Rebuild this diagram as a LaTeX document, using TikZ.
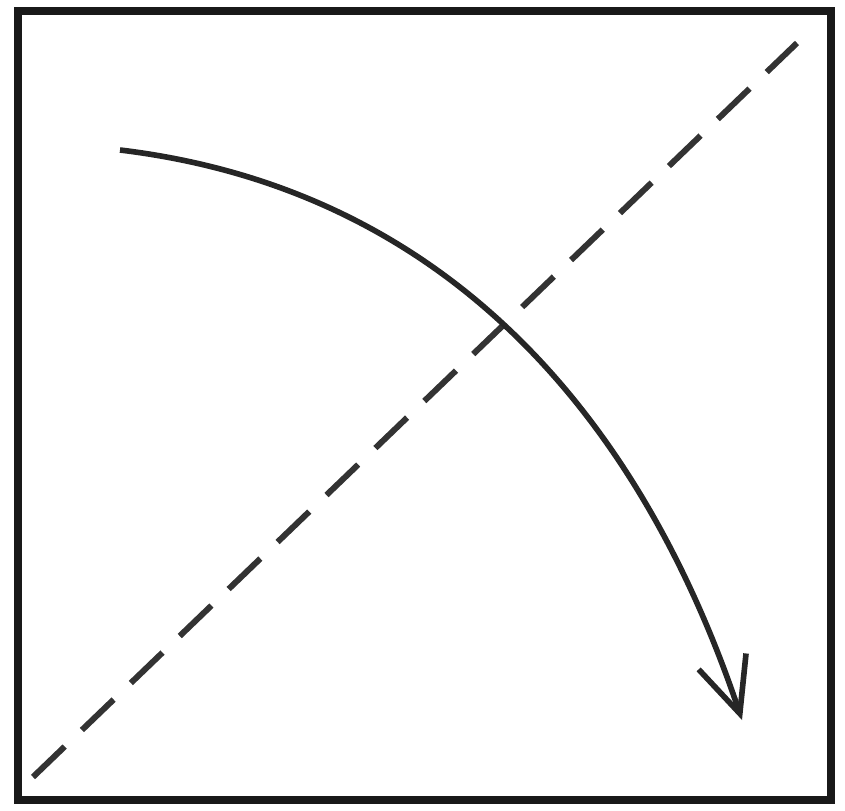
\documentclass[tikz,border=0pt]{standalone}
\usepackage{tikz}
\usetikzlibrary{arrows.meta}

\begin{document}
\begin{tikzpicture}[>={Straight Barb[length=5.5mm,width=5mm]},
  frame/.style={draw=black!90, line width=2.5pt},
  fold/.style={draw=black!80, line width=1.7pt, dash pattern=on 12.5pt off 6.8pt},
  turn/.style={draw=black!85, line width=1.6pt, ->}]
  \useasboundingbox (0,0) rectangle (8.45,8.10);
  \coordinate (sw) at (0.18,0.10);
  \coordinate (ne) at (8.31,7.99);
  \coordinate (f0) at (0.33,0.33);
  \coordinate (f1) at (7.97,7.67);
  \coordinate (t0) at (1.20,6.60);
  \coordinate (t1) at (7.42,0.90);
  \draw[frame] (sw) rectangle (ne);
  \draw[fold] (f0) -- (f1);
  \draw[turn] (t0) .. controls (4.43,6.21) and (6.39,3.97) .. (t1);
\end{tikzpicture}
\end{document}
